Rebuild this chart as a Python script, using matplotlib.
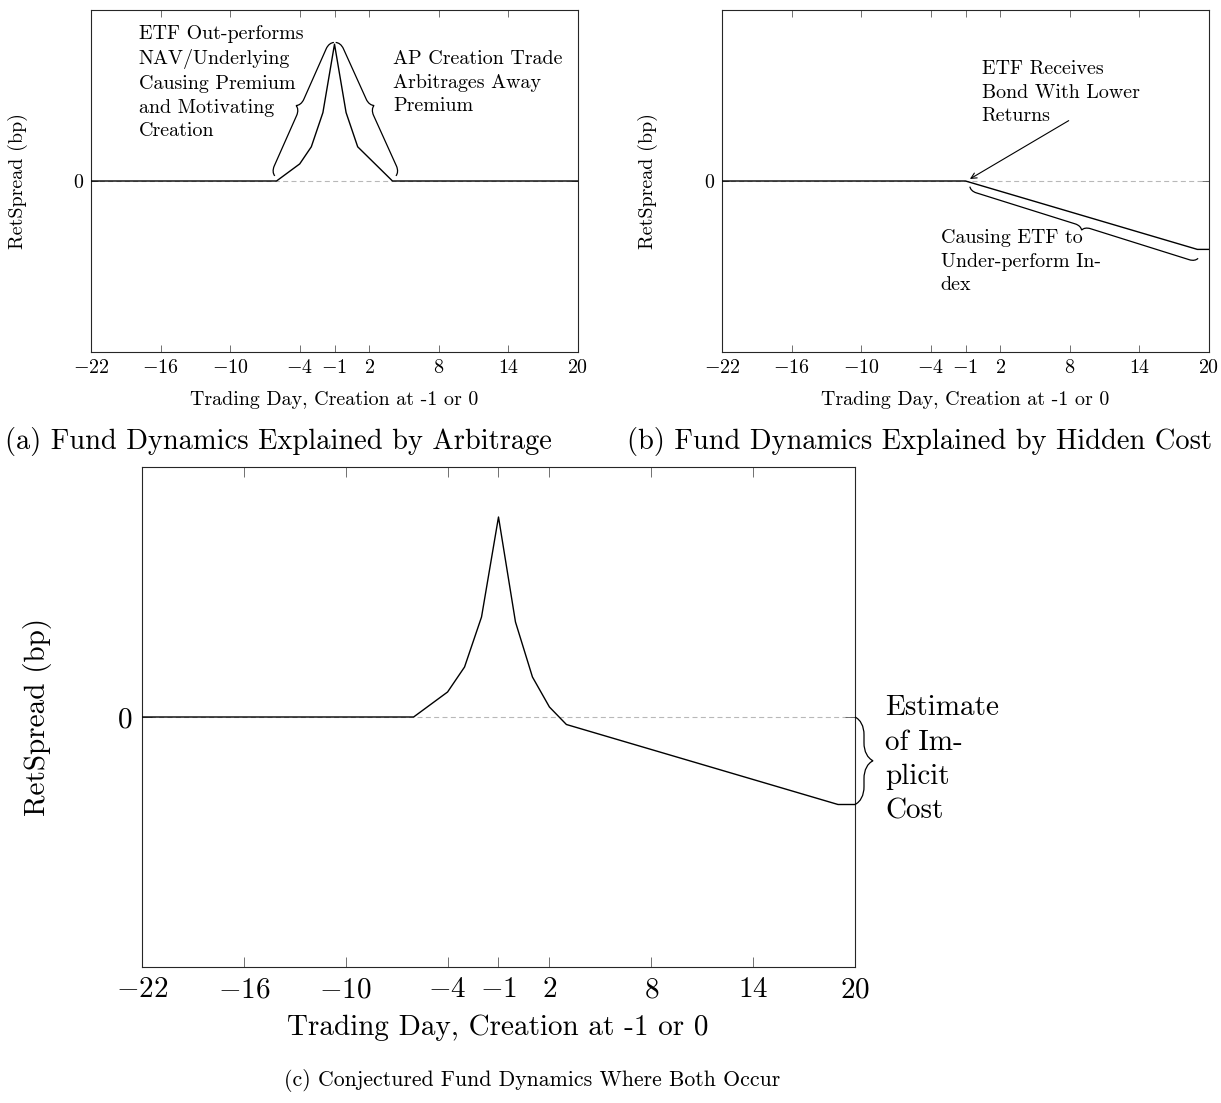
import numpy as np
import matplotlib
matplotlib.use('Agg')
import matplotlib.pyplot as plt
from matplotlib.path import Path
from matplotlib.patches import PathPatch

plt.rcParams['font.family'] = 'cmr10'
plt.rcParams['mathtext.fontset'] = 'cm'
plt.rcParams['axes.unicode_minus'] = False
plt.rcParams['axes.formatter.use_mathtext'] = True

# ---------------- data ----------------
x_ticks = [-22, -16, -10, -4, -1, 2, 8, 14, 20]
y_ticks = [0]

a_days = [-22, -6, -4, -3, -2, -1, 0, 1, 4, 20]
a_spread = [0, 0, 0.1, 0.2, 0.4, 0.8, 0.4, 0.2, 0, 0]

b_days = [-22, -1, 19, 20]
b_spread = [0, 0, -0.4, -0.4]

c_days = [-22, -6, -4, -3, -2, -1, 0, 1, 2, 3, 19, 20]
c_spread = [0, 0, 0.1, 0.2, 0.4, 0.8, 0.38, 0.16, 0.04, -0.03, -0.35, -0.35]

xlabel = 'Trading Day, Creation at -1 or 0'
ylabel = 'RetSpread (bp)'
captions = ['(a) Fund Dynamics Explained by Arbitrage',
            '(b) Fund Dynamics Explained by Hidden Cost',
            '(c) Conjectured Fund Dynamics Where Both Occur']

W, H = 1221, 1103
fig = plt.figure(figsize=(W / 100, H / 100), dpi=100)


def px_axes(l, t, r, b):
    return fig.add_axes([l / W, 1 - b / H, (r - l) / W, (b - t) / H])


def style(ax, fs, ticklen, pad):
    ax.set_xlim(-22, 20)
    ax.set_ylim(-1, 1)
    ax.set_xticks(x_ticks)
    ax.set_xticklabels([f'${t}$' for t in x_ticks])
    ax.set_yticks(y_ticks)
    ax.set_yticklabels([f'${t}$' for t in y_ticks])
    ax.tick_params(direction='in', top=True, right=True, length=ticklen,
                   width=0.6, color='0.35', labelsize=fs, pad=pad)
    for s in ax.spines.values():
        s.set_linewidth(0.8)
        s.set_color('0.15')
    ax.axhline(0, color='0.72', lw=0.8, dashes=(4.5, 3), zorder=1)


def brace(ax, p1, p2, amp, lw=0.9):
    T = ax.transData
    a = np.array(T.transform(p1))
    b = np.array(T.transform(p2))
    d = b - a
    L = np.hypot(*d)
    u = d / L
    n = np.array([-u[1], u[0]])
    A = amp
    M = L / 2
    local = [(0, 0), (0.15 * A, 0.3 * A), (0.5 * A, 0.5 * A), (A, 0.5 * A),
             (M - A, 0.5 * A), (M - 0.5 * A, 0.5 * A), (M - 0.15 * A, 0.7 * A), (M, A),
             (M + 0.15 * A, 0.7 * A), (M + 0.5 * A, 0.5 * A), (M + A, 0.5 * A),
             (L - A, 0.5 * A), (L - 0.5 * A, 0.5 * A), (L - 0.15 * A, 0.3 * A), (L, 0)]
    codes = [Path.MOVETO, Path.CURVE4, Path.CURVE4, Path.CURVE4,
             Path.LINETO, Path.CURVE4, Path.CURVE4, Path.CURVE4,
             Path.CURVE4, Path.CURVE4, Path.CURVE4,
             Path.LINETO, Path.CURVE4, Path.CURVE4, Path.CURVE4]
    pts = np.array([a + s * u + t * n for s, t in local])
    dpts = T.inverted().transform(pts)
    ax.add_patch(PathPatch(Path(dpts, codes), fill=False, lw=lw,
                           edgecolor='black', clip_on=False, zorder=4))


small = 14.4
large = 21
LS = 1.4

# ---------------- panel (a) ----------------
axa = px_axes(91, 10, 578, 352)
style(axa, small, 5, 5)
axa.plot(a_days, a_spread, color='black', lw=1.0, zorder=3)
brace(axa, (-6.15, 0.03), (-1.05, 0.81), 9)
brace(axa, (-0.9, 0.81), (4.3, 0.03), 9)
axa.text(-17.9, 0.575, 'ETF Out-performs\nNAV/Underlying\nCausing Premium\nand Motivating\nCreation',
         fontsize=small, ha='left', va='center', linespacing=LS)
axa.text(4.05, 0.575, 'AP Creation Trade\nArbitrages Away\nPremium',
         fontsize=small, ha='left', va='center', linespacing=LS)

# ---------------- panel (b) ----------------
axb = px_axes(722, 10, 1209, 352)
style(axb, small, 5, 5)
axb.plot(b_days, b_spread, color='black', lw=1.0, zorder=3)
brace(axb, (19.06, -0.452), (-0.62, -0.033), 8)
axb.annotate('', xy=(-0.62, 0.012), xytext=(7.9, 0.353),
             arrowprops=dict(arrowstyle='->', lw=0.8, color='black', shrinkA=0, shrinkB=0))
axb.text(0.39, 0.515, 'ETF Receives\nBond With Lower\nReturns',
         fontsize=small, ha='left', va='center', linespacing=LS)
axb.text(-3.15, -0.472, 'Causing ETF to\nUnder-perform In-\ndex',
         fontsize=small, ha='left', va='center', linespacing=LS)

# ---------------- panel (c) ----------------
axc = px_axes(142, 467, 855, 967)
style(axc, large, 7, 7)
axc.plot(c_days, c_spread, color='black', lw=1.0, zorder=3)
brace(axc, (20, 0.0), (20, -0.35), 18)
fig.text(885 / W, 1 - 760 / H, 'Estimate\nof Im-\nplicit\nCost', fontsize=large,
         ha='left', va='center', linespacing=LS)

# ---------------- labels ----------------
fig.text(334 / W, 1 - 400 / H, xlabel, fontsize=small, ha='center', va='center')
fig.text(965 / W, 1 - 400 / H, xlabel, fontsize=small, ha='center', va='center')
fig.text(498 / W, 1 - 1028 / H, xlabel, fontsize=large, ha='center', va='center')
fig.text(18 / W, 1 - 181 / H, ylabel, fontsize=small, ha='center', va='center', rotation=90)
fig.text(648 / W, 1 - 181 / H, ylabel, fontsize=small, ha='center', va='center', rotation=90)
fig.text(38 / W, 1 - 717 / H, ylabel, fontsize=large, ha='center', va='center', rotation=90)

fig.text(278 / W, 1 - 441 / H, captions[0], fontsize=20.5, ha='center', va='center')
fig.text(920 / W, 1 - 441 / H, captions[1], fontsize=20.5, ha='center', va='center')
fig.text(532 / W, 1 - 1080 / H, captions[2], fontsize=15.7, ha='center', va='center')

fig.savefig('out.png', dpi=100, facecolor='white')
